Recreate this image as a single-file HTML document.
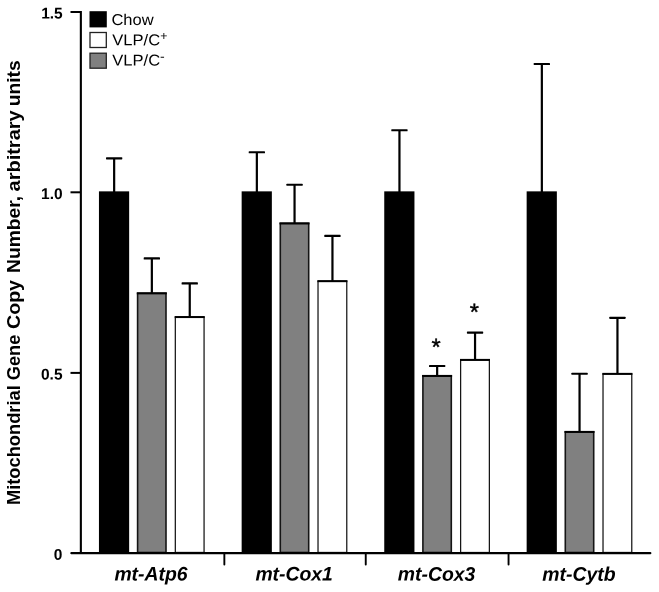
<!DOCTYPE html>
<html><head><meta charset="utf-8"><title>Mitochondrial Gene Copy Number</title>
<style>
html,body{margin:0;padding:0;background:#fff;}
svg{display:block;font-family:"Liberation Sans",Arial,Helvetica,sans-serif;}
</style></head><body>
<svg width="659" height="592" viewBox="0 0 659 592">
<rect width="659" height="592" fill="#fff"/>
<!-- bars -->
<rect x="113.05" y="158.3" width="2.2" height="34.2" fill="#000"/>
<rect x="106.0" y="157.25" width="16.3" height="2.15" rx="0.6" fill="#000"/>
<rect x="98.95" y="191.35" width="30.2" height="361.15" fill="#000"/>
<rect x="150.75" y="258.4" width="2.2" height="34.9" fill="#000"/>
<rect x="143.7" y="257.33" width="16.3" height="2.15" rx="0.6" fill="#000"/>
<rect x="137.60" y="293.30" width="28.40" height="259.2" fill="#808080" stroke="#151515" stroke-width="1.6"/>
<rect x="136.80" y="292.30" width="30.0" height="2" fill="#000"/>
<rect x="188.65" y="283.4" width="2.2" height="33.7" fill="#000"/>
<rect x="181.6" y="282.35" width="16.3" height="2.15" rx="0.6" fill="#000"/>
<rect x="175.32" y="317.06" width="28.75" height="235.4" fill="#fff" stroke="#151515" stroke-width="1.25"/>
<rect x="174.70" y="316.06" width="30.0" height="2" fill="#000"/>
<rect x="255.75" y="152.2" width="2.2" height="40.3" fill="#000"/>
<rect x="248.7" y="151.13" width="16.3" height="2.15" rx="0.6" fill="#000"/>
<rect x="241.65" y="191.35" width="30.2" height="361.15" fill="#000"/>
<rect x="293.45" y="184.8" width="2.2" height="38.6" fill="#000"/>
<rect x="286.4" y="183.71" width="16.3" height="2.15" rx="0.6" fill="#000"/>
<rect x="280.30" y="223.39" width="28.40" height="329.1" fill="#808080" stroke="#151515" stroke-width="1.6"/>
<rect x="279.50" y="222.39" width="30.0" height="2" fill="#000"/>
<rect x="331.35" y="235.9" width="2.2" height="45.3" fill="#000"/>
<rect x="324.3" y="234.83" width="16.3" height="2.15" rx="0.6" fill="#000"/>
<rect x="318.02" y="281.17" width="28.75" height="271.3" fill="#fff" stroke="#151515" stroke-width="1.25"/>
<rect x="317.40" y="280.17" width="30.0" height="2" fill="#000"/>
<rect x="398.35" y="130.2" width="2.2" height="62.3" fill="#000"/>
<rect x="391.3" y="129.17" width="16.3" height="2.15" rx="0.6" fill="#000"/>
<rect x="384.25" y="191.35" width="30.2" height="361.15" fill="#000"/>
<rect x="436.05" y="366.0" width="2.2" height="9.9" fill="#000"/>
<rect x="429.0" y="364.97" width="16.3" height="2.15" rx="0.6" fill="#000"/>
<rect x="422.90" y="375.92" width="28.40" height="176.6" fill="#808080" stroke="#151515" stroke-width="1.6"/>
<rect x="422.10" y="374.92" width="30.0" height="2" fill="#000"/>
<rect x="473.95" y="332.5" width="2.2" height="27.4" fill="#000"/>
<rect x="466.9" y="331.49" width="16.3" height="2.15" rx="0.6" fill="#000"/>
<rect x="460.62" y="359.90" width="28.75" height="192.6" fill="#fff" stroke="#151515" stroke-width="1.25"/>
<rect x="460.00" y="358.90" width="30.0" height="2" fill="#000"/>
<rect x="540.75" y="64.0" width="2.2" height="128.5" fill="#000"/>
<rect x="533.7" y="62.93" width="16.3" height="2.15" rx="0.6" fill="#000"/>
<rect x="526.65" y="191.35" width="30.2" height="361.15" fill="#000"/>
<rect x="578.45" y="373.7" width="2.2" height="58.2" fill="#000"/>
<rect x="571.4" y="372.64" width="16.3" height="2.15" rx="0.6" fill="#000"/>
<rect x="565.30" y="431.90" width="28.40" height="120.6" fill="#808080" stroke="#151515" stroke-width="1.6"/>
<rect x="564.50" y="430.90" width="30.0" height="2" fill="#000"/>
<rect x="616.35" y="317.8" width="2.2" height="56.1" fill="#000"/>
<rect x="609.3" y="316.73" width="16.3" height="2.15" rx="0.6" fill="#000"/>
<rect x="603.02" y="373.87" width="28.75" height="178.6" fill="#fff" stroke="#151515" stroke-width="1.25"/>
<rect x="602.40" y="372.87" width="30.0" height="2" fill="#000"/>
<!-- axes -->
<rect x="79.8" y="11" width="2.1" height="542" fill="#000"/>
<rect x="70.3" y="552" width="581.1" height="2.2" rx="1" fill="#000"/>
<rect x="70.5" y="11" width="10" height="2" fill="#000"/>
<rect x="70.5" y="191.3" width="10" height="2" fill="#000"/>
<rect x="70.5" y="371.9" width="10" height="2" fill="#000"/>
<rect x="223.4" y="552" width="1.9" height="13.5" rx="0.9" fill="#000"/>
<rect x="364.8" y="552" width="1.9" height="13.5" rx="0.9" fill="#000"/>
<rect x="507.6" y="552" width="1.9" height="13.5" rx="0.9" fill="#000"/>
<!-- y tick labels -->
<g font-weight="bold" font-size="15.5" text-anchor="end" fill="#000" transform="rotate(0.03 55 290)">
<text x="62.6" y="18.4">1.5</text>
<text x="62.6" y="199.1">1.0</text>
<text x="62.6" y="379.4">0.5</text>
<text x="62.6" y="559.8">0</text>
</g>
<!-- y title -->
<text transform="translate(20.0,505.0) rotate(-90)" font-weight="bold" font-size="18.6" fill="#000"><tspan x="-0.1" y="0" textLength="119.9" lengthAdjust="spacingAndGlyphs">Mitochondrial</tspan> <tspan x="124.8" y="0" textLength="45.5" lengthAdjust="spacingAndGlyphs">Gene</tspan> <tspan x="176.0" y="0" textLength="49.0" lengthAdjust="spacingAndGlyphs">Copy</tspan> <tspan x="232.0" y="0" textLength="77.0" lengthAdjust="spacingAndGlyphs">Number,</tspan> <tspan x="313.5" y="0" textLength="81.2" lengthAdjust="spacingAndGlyphs">arbitrary</tspan> <tspan x="398.8" y="0" textLength="45.9" lengthAdjust="spacingAndGlyphs">units</tspan></text>
<!-- x labels -->
<g font-weight="bold" font-style="italic" font-size="19.6" fill="#000" transform="rotate(0.03 360 580)">
<text x="114.4" y="580.6" textLength="73.2" lengthAdjust="spacingAndGlyphs">mt-Atp6</text>
<text x="255.4" y="580.6" textLength="77.5" lengthAdjust="spacingAndGlyphs">mt-Cox1</text>
<text x="397.8" y="580.6" textLength="77.5" lengthAdjust="spacingAndGlyphs">mt-Cox3</text>
<text x="542.3" y="580.6" textLength="73.2" lengthAdjust="spacingAndGlyphs">mt-Cytb</text>
</g>
<!-- legend -->
<rect x="89.5" y="11.2" width="17.3" height="16.2" fill="#000"/>
<rect x="90" y="32.5" width="16.3" height="15" fill="#fff" stroke="#222" stroke-width="1.3"/>
<rect x="90" y="53.2" width="16.3" height="15" fill="#808080" stroke="#222" stroke-width="1.3"/>
<g font-size="15.7" fill="#000" transform="rotate(0.03 130 40)">
<text x="111.4" y="25.1" textLength="42.2" lengthAdjust="spacingAndGlyphs">Chow</text>
<text><tspan x="112.3" y="45.2" textLength="47.8" lengthAdjust="spacingAndGlyphs">VLP/C</tspan><tspan x="160.2" y="40" font-size="12.3">+</tspan></text>
<text><tspan x="112.3" y="65.4" textLength="47.8" lengthAdjust="spacingAndGlyphs">VLP/C</tspan><tspan x="160.1" y="60.9" font-size="14">-</tspan></text>
</g>
<!-- asterisks -->
<g font-size="23.5" text-anchor="middle" fill="#000" stroke="#000" stroke-width="0.45" transform="rotate(0.03 455 335)">
<text x="436.2" y="355">*</text>
<text x="474.3" y="320">*</text>
</g>
</svg>
</body></html>
